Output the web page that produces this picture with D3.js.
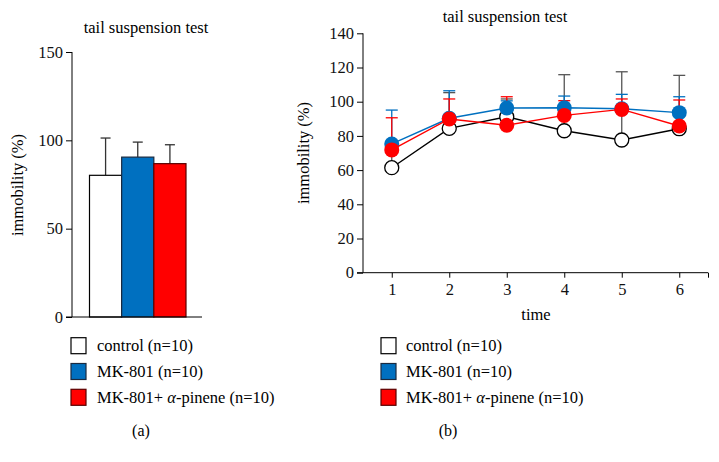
<!DOCTYPE html>
<html><head><meta charset="utf-8">
<script src="https://cdn.jsdelivr.net/npm/d3@7"></script>
<style>
body{margin:0;background:#fff;}
</style></head><body>
<svg id="c" width="719" height="462"></svg>
<script>
// ---- Data ----
const groups = ["control (n=10)", "MK-801 (n=10)", "MK-801+ \u03b1-pinene (n=10)"];
const groupColors = ["#ffffff", "#0070c0", "#ff0000"];
const groupStrokes = ["#000000", "#1a2a40", "#5a0000"];
const errColors = ["#555555", "#0070c0", "#ff0000"];
const barMeans = [80.2, 90.5, 86.8];
const barUpper = [101.3, 99.0, 97.5];
const barTicks = [0, 50, 100, 150];

const times = [1, 2, 3, 4, 5, 6];
const controlMeans = [61.4, 84.4, 91.2, 83.0, 77.6, 84.2];
const controlUpper = [70.0, 105.3, 101.6, 115.8, 117.5, 115.4];
const mkMeans = [75.3, 90.3, 96.3, 96.5, 95.9, 93.6];
const mkUpper = [95.1, 106.4, 100.5, 103.3, 104.3, 102.9];
const pinMeans = [71.8, 89.9, 86.2, 92.0, 95.5, 85.8];
const pinUpper = [90.6, 101.6, 102.9, 100.6, 101.6, 101.0];
const lineTicks = [0, 20, 40, 60, 80, 100, 120, 140];

const titleText = "tail suspension test";
const yLabel = "immobility (%)";
const xLabel = "time";
const FONT = "'Liberation Serif', 'Times New Roman', Times, serif";

const svg = d3.select("#c").attr("font-family", FONT);

// ---- Panel (a) ----
const A = svg.append("g");
const ya = d3.scaleLinear().domain([0, 150]).range([317, 52]);
const xa = d3.scaleBand().domain(groups).range([89.5, 186]).padding(0);

A.append("text").attr("x", 146).attr("y", 33).attr("text-anchor", "middle")
  .attr("font-size", 16.5).text(titleText);

groups.forEach((g, i) => {
  const cx = xa(g) + xa.bandwidth() / 2;
  A.append("line").attr("x1", cx).attr("x2", cx)
    .attr("y1", ya(barMeans[i])).attr("y2", ya(barUpper[i]))
    .attr("stroke", "#333").attr("stroke-width", 1.3);
  A.append("line").attr("x1", cx - 5).attr("x2", cx + 5)
    .attr("y1", ya(barUpper[i])).attr("y2", ya(barUpper[i]))
    .attr("stroke", "#333").attr("stroke-width", 1.3);
});
A.selectAll("rect.bar").data(groups).join("rect").attr("class", "bar")
  .attr("x", g => xa(g)).attr("width", xa.bandwidth())
  .attr("y", (g, i) => ya(barMeans[i]))
  .attr("height", (g, i) => ya(0) - ya(barMeans[i]))
  .attr("fill", (g, i) => groupColors[i])
  .attr("stroke", (g, i) => groupStrokes[i]).attr("stroke-width", 1.2);

const axA = A.append("g").attr("transform", "translate(72,0)")
  .call(d3.axisLeft(ya).tickValues(barTicks).tickSize(6).tickPadding(3));
axA.attr("font-family", FONT).attr("font-size", 16.5);
axA.selectAll("text").attr("fill", "#111");
axA.select(".domain").attr("d", `M0,${ya(150)}V${ya(0)}`);
A.append("line").attr("x1", 66).attr("x2", 202).attr("y1", ya(0)).attr("y2", ya(0))
  .attr("stroke", "#000");
A.append("text").attr("transform", `translate(23,${185}) rotate(-90)`)
  .attr("text-anchor", "middle").attr("font-size", 16.5).text(yLabel);

// ---- Panel (b) ----
const B = svg.append("g");
const xb = d3.scaleLinear().domain([0.5, 6.5]).range([363, 708]);
const yb = d3.scaleLinear().domain([0, 140]).range([272.7, 33.3]);

B.append("text").attr("x", 505).attr("y", 22).attr("text-anchor", "middle")
  .attr("font-size", 16.5).text(titleText);

const axY = B.append("g").attr("transform", "translate(363,0)")
  .call(d3.axisLeft(yb).tickValues(lineTicks).tickSize(6).tickPadding(3));
axY.attr("font-family", FONT).attr("font-size", 16.5);
axY.selectAll("text").attr("fill", "#111");
axY.select(".domain").attr("d", `M0,${yb(140)}V${yb(0)}`);

const axX = B.append("g").attr("transform", `translate(0,${yb(0)})`)
  .call(d3.axisBottom(xb).tickValues([1, 2, 3, 4, 5, 6, 6.5])
    .tickFormat(d => Number.isInteger(d) ? d : "").tickSize(5).tickPadding(6));
axX.attr("font-family", FONT).attr("font-size", 16.5);
axX.selectAll("text").attr("fill", "#111");
axX.select(".domain").attr("d", `M${357},0H${708}`);

B.append("text").attr("transform", `translate(309,153) rotate(-90)`)
  .attr("text-anchor", "middle").attr("font-size", 16.5).text(yLabel);
B.append("text").attr("x", 536).attr("y", 320).attr("text-anchor", "middle")
  .attr("font-size", 16.5).text(xLabel);

const series = [
  {m: controlMeans, u: controlUpper},
  {m: mkMeans, u: mkUpper},
  {m: pinMeans, u: pinUpper}
];
const lineColors = ["#000000", "#0070c0", "#ff0000"];
series.forEach((s, k) => {
  times.forEach((t, i) => {
    const cx = xb(t);
    B.append("line").attr("x1", cx).attr("x2", cx)
      .attr("y1", yb(s.m[i])).attr("y2", yb(s.u[i]))
      .attr("stroke", errColors[k]).attr("stroke-width", 1.3);
    B.append("line").attr("x1", cx - 6).attr("x2", cx + 6)
      .attr("y1", yb(s.u[i])).attr("y2", yb(s.u[i]))
      .attr("stroke", errColors[k]).attr("stroke-width", 1.3);
  });
});
const lineGen = d3.line().x((d, i) => xb(times[i])).y(d => yb(d));
series.forEach((s, k) => {
  B.append("path").datum(s.m).attr("d", lineGen)
    .attr("fill", "none").attr("stroke", lineColors[k]).attr("stroke-width", 1.4);
  B.selectAll(null).data(s.m).join("circle")
    .attr("cx", (d, i) => xb(times[i])).attr("cy", d => yb(d))
    .attr("r", k === 0 ? 7 : 7.5)
    .attr("fill", groupColors[k])
    .attr("stroke", k === 0 ? "#000" : "none").attr("stroke-width", 1.3);
});

// ---- Legends ----
function legend(x0, textX) {
  groups.forEach((g, i) => {
    const cy = 345.7 + i * 25.8;
    svg.append("rect").attr("x", x0).attr("y", cy - 8).attr("width", 15).attr("height", 16)
      .attr("fill", groupColors[i]).attr("stroke", groupStrokes[i]).attr("stroke-width", 1.2);
    const t = svg.append("text").attr("x", textX).attr("y", cy + 5.5).attr("font-size", 16.5);
    if (i === 2) {
      t.append("tspan").text("MK-801+ ");
      t.append("tspan").attr("font-style", "italic").text("\u03b1");
      t.append("tspan").text("-pinene (n=10)");
    } else t.text(g);
  });
}
legend(71, 97);
legend(381, 406);
svg.append("text").attr("x", 141).attr("y", 436).attr("text-anchor", "middle").attr("font-size", 16).text("(a)");
svg.append("text").attr("x", 448).attr("y", 436).attr("text-anchor", "middle").attr("font-size", 16).text("(b)");
</script>
</body></html>
